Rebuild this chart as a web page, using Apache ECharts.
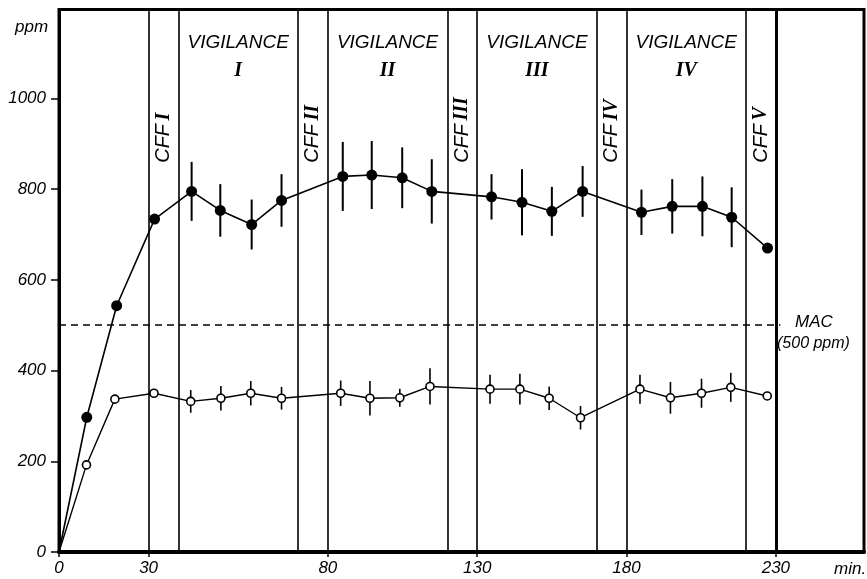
<!DOCTYPE html>
<html>
<head>
<meta charset="utf-8">
<title>ppm vs min</title>
<script src="https://cdn.jsdelivr.net/npm/echarts@6.0.0/dist/echarts.min.js"></script>
<style>
  html, body { margin: 0; padding: 0; background: #fff; }
  #chart { width: 867px; height: 579px; }
</style>
</head>
<body>
<div id="chart"></div>
<script>
// x is in the figure's drawn time units (the 30-80 block is drawn 10 units wider)
var xTickPos = [0, 30, 90, 140, 190, 240]
var xTickLabels = ['0', '30', '80', '130', '180', '230']
var yTicks = [0, 200, 400, 600, 800, 1000]

// filled circles
var filledX = [0, 9.3, 19.3, 32, 44.4, 54, 64.5, 74.5, 95, 104.7, 114.9, 124.8, 144.8, 155, 165, 175.3, 195, 205.3, 215.4, 225.2, 237.2]
var filledY = [0, 297, 543, 734, 795, 753, 722, 775, 828, 831, 825, 795, 783, 771, 751, 795, 749, 762, 762, 738, 670]
var filledErr = [null, null, null, null, 65, 58, 55, 58, 76, 75, 67, 71, 50, 73, 54, 56, 50, 60, 66, 66, null]

// open circles
var openX = [0, 9.2, 18.7, 31.8, 44.1, 54.2, 64.2, 74.5, 94.3, 104.1, 114.1, 124.2, 144.3, 154.3, 164.1, 174.6, 194.5, 204.7, 215.1, 224.9, 237.1]
var openY = [0, 192, 337, 350, 332, 339, 350, 339, 350, 339, 340, 365, 359, 359, 339, 296, 359, 340, 350, 363, 344]
var openErr = [null, null, null, null, 25, 27, 27, 25, 28, 38, 20, 40, 32, 34, 26, 26, 32, 35, 32, 32, null]

// test periods
var cffNames = ['I', 'II', 'III', 'IV', 'V']
var cffStart = [30, 80, 130, 180, 230]
var vigNames = ['I', 'II', 'III', 'IV']
var vigStart = [40, 90, 140, 190]
var periodLength = [10, 40] // CFF, VIGILANCE
var macValue = 500

var black = '#000'
var sans = 'Liberation Sans'
var serif = 'Liberation Serif'

function pairs(xs, ys) {
  return xs.map(function(x, i) {
    var item = { value: [x, ys[i]] }
    if (i === 0) item.symbolSize = 0
    return item
  })
}

function errData(xs, ys, es) {
  var out = []
  for (var i = 0; i < xs.length; i++) {
    if (es[i] != null) out.push([xs[i], ys[i], es[i]])
  }
  return out
}

function errBar(width) {
  return function(params, api) {
    var x = api.value(0)
    var y = api.value(1)
    var e = api.value(2)
    var p1 = api.coord([x, y + e])
    var p2 = api.coord([x, y - e])
    return {
      type: 'line',
      shape: { x1: p1[0], y1: p1[1], x2: p2[0], y2: p2[1] },
      style: { stroke: black, lineWidth: width }
    }
  }
}

// boundary lines of every period
var boundaries = []
cffStart.forEach(function(s) { boundaries.push(s, s + periodLength[0]) })
var vLines = boundaries.map(function(b, i) {
  return { xAxis: b, lineStyle: { width: i === boundaries.length - 1 ? 3 : 1.6 } }
})

var cffAreas = cffStart.map(function(s, i) {
  return [
    { xAxis: s, yAxis: 880, name: '{a|CFF} {r|' + cffNames[i] + '}' },
    { xAxis: s + periodLength[0], yAxis: 836 }
  ]
})
var vigAreas = vigStart.map(function(s, i) {
  return [
    { xAxis: s, yAxis: 1120, name: '{a|VIGILANCE}\n{r|' + vigNames[i] + '}' },
    { xAxis: s + periodLength[1], yAxis: 1063 }
  ]
})

var chart = echarts.init(document.getElementById('chart'))
chart.setOption({
  animation: false,
  backgroundColor: '#fff',
  grid: {
    left: 59, right: 3, top: 9.5, bottom: 27,
    show: true, borderColor: black, borderWidth: 3, backgroundColor: 'transparent'
  },
  xAxis: {
    type: 'value',
    min: 0,
    max: 269.5,
    axisLine: { lineStyle: { color: black, width: 4 } },
    axisTick: { customValues: xTickPos, length: 5, lineStyle: { color: black, width: 1.5 } },
    axisLabel: {
      customValues: xTickPos,
      formatter: function(v) { return xTickLabels[xTickPos.indexOf(v)] },
      color: black, fontFamily: sans, fontStyle: 'italic', fontSize: 17, margin: 8
    },
    splitLine: { show: false }
  },
  yAxis: {
    type: 'value',
    min: 0,
    max: 1196,
    axisLine: { show: true, lineStyle: { color: black, width: 3 } },
    axisTick: { show: true, customValues: yTicks, length: 8, lineStyle: { color: black, width: 1.5 } },
    axisLabel: {
      customValues: yTicks,
      formatter: function(v) { return String(v) },
      color: black, fontFamily: sans, fontStyle: 'italic', fontSize: 17, margin: 13
    },
    splitLine: { show: false }
  },
  graphic: [
    { type: 'text', left: 15, top: 19, style: { text: 'ppm', fill: black, font: 'italic 17px ' + sans } },
    { type: 'text', left: 834, top: 561, style: { text: 'min.', fill: black, font: 'italic 17px ' + sans } },
    { type: 'text', left: 795, top: 314, style: { text: 'MAC', fill: black, font: 'italic 17px ' + sans } },
    { type: 'text', left: 777, top: 336, style: { text: '(500 ppm)', fill: black, font: 'italic 16px ' + sans } }
  ],
  series: [
    {
      name: 'periods',
      type: 'line',
      data: [],
      silent: true,
      markLine: {
        symbol: 'none',
        silent: true,
        label: { show: false },
        lineStyle: { color: black, type: 'solid', width: 1.6 },
        data: vLines.concat([[
          { coord: [0, macValue], lineStyle: { type: [7, 5], width: 1.6 } },
          { coord: [241.5, macValue] }
        ]])
      },
      markArea: {
        silent: true,
        itemStyle: { color: 'transparent' },
        label: {
          show: true,
          position: 'inside',
          rotate: 90,
          align: 'left',
          formatter: '{b}',
          rich: {
            a: { fontFamily: sans, fontStyle: 'italic', fontSize: 20, color: black },
            r: { fontFamily: serif, fontStyle: 'italic', fontWeight: 'bold', fontSize: 20, color: black }
          }
        },
        data: cffAreas
      }
    },
    {
      name: 'vigilance',
      type: 'line',
      data: [],
      silent: true,
      markArea: {
        silent: true,
        itemStyle: { color: 'transparent' },
        label: {
          show: true,
          position: 'inside',
          formatter: '{b}',
          rich: {
            a: { fontFamily: sans, fontStyle: 'italic', fontSize: 19, color: black, lineHeight: 28, align: 'center' },
            r: { fontFamily: serif, fontStyle: 'italic', fontWeight: 'bold', fontSize: 20, color: black, lineHeight: 28, align: 'center' }
          }
        },
        data: vigAreas
      }
    },
    {
      name: 'filled err',
      type: 'custom',
      z: 2,
      silent: true,
      renderItem: errBar(2),
      data: errData(filledX, filledY, filledErr)
    },
    {
      name: 'open err',
      type: 'custom',
      z: 2,
      silent: true,
      renderItem: errBar(1.6),
      data: errData(openX, openY, openErr)
    },
    {
      name: 'filled',
      type: 'line',
      z: 3,
      symbol: 'circle',
      symbolSize: 11,
      lineStyle: { color: black, width: 1.6 },
      itemStyle: { color: black },
      data: pairs(filledX, filledY)
    },
    {
      name: 'open',
      type: 'line',
      z: 3,
      symbol: 'circle',
      symbolSize: 8,
      lineStyle: { color: black, width: 1.4 },
      itemStyle: { color: '#fff', borderColor: black, borderWidth: 1.6 },
      data: pairs(openX, openY)
    }
  ]
})
</script>
</body>
</html>
